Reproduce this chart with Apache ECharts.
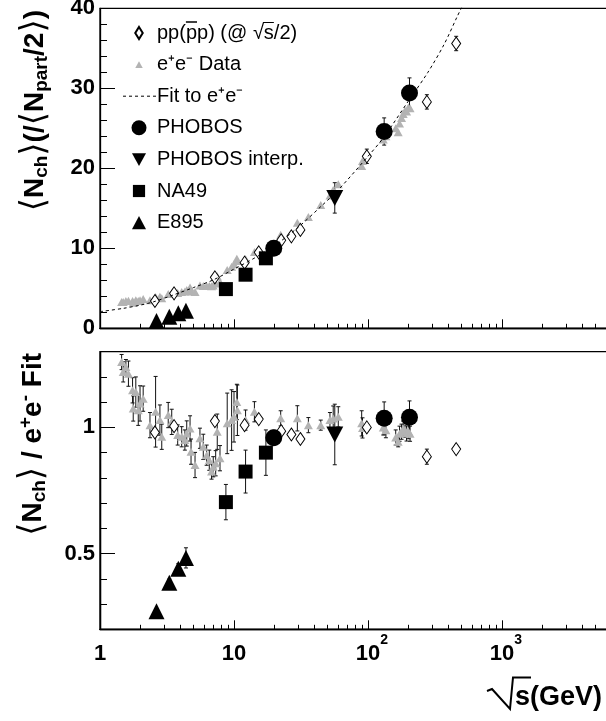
<!DOCTYPE html>
<html><head><meta charset="utf-8">
<script src="https://cdn.jsdelivr.net/npm/echarts@6/dist/echarts.min.js"></script>
<style>html,body{margin:0;padding:0;background:#fff}#c{width:606px;height:721px}</style>
</head><body><div id="c"></div>
<script>
// ---------------- data ----------------
const fitX = [1, 1.5, 2, 2.5, 3.5, 5, 7, 10, 15, 20, 30, 45, 60, 100, 130, 200, 280, 370, 464, 510];
const fitY = [2.08, 2.5, 2.9, 3.3, 4.15, 5.1, 6.05, 7.4, 9.0, 10.3, 12.6, 15.3, 17.3, 21.5, 23.8, 28.4, 32.0, 35.5, 39.0, 40.4];

const ppX = [2.57, 3.57, 7.2, 12.0, 15.3, 22.5, 26.8, 31.3, 98, 275, 455];
const ppY = [3.41, 4.37, 6.37, 8.2, 9.5, 11.0, 11.5, 12.3, 21.5, 28.3, 35.6];
const ppYErr = [0.3, 0.3, 0.4, 0.4, 0.4, 0.4, 0.4, 0.4, 0.9, 0.9, 0.9];
const ppRatio = [0.98, 1.005, 1.025, 1.009, 1.033, 0.985, 0.972, 0.954, 1.0, 0.884, 0.914];
const ppRatioErr = [0.01, 0.01, 0.01, 0.01, 0.01, 0.01, 0.01, 0.01, 0.01, 0.03, 0.015];

const eeX = [1.45,1.49,1.56,1.63,1.75,1.77,1.85,1.93,1.99,2.1,2.36,2.6,2.8,2.89,3.23,3.43,3.8,4.07,4.3,4.44,4.7,4.78,5.12,5.57,5.9,6.25,6.54,6.8,7.0,7.3,7.5,7.86,8.9,9.6,10.0,10.5,10.6,12.2,14.2,22.3,29.7,35.9,44.4,52,55,60,89.7,91,130,136,161,168,172,178,183,189,194,200,206];
const eeY = [3.3,3.3,3.4,3.45,3.4,3.2,3.5,3.4,3.5,3.65,3.5,3.9,3.95,3.75,4.3,4.35,4.4,4.55,4.6,4.8,5.1,4.6,4.55,5.35,5.3,5.3,5.3,5.25,5.35,5.6,6.5,5.8,7.3,7.7,8.0,8.7,8.4,8.65,9.55,11.7,13.2,13.9,15.4,16.6,17.3,18.0,20.3,20.9,23.6,24.0,25.0,24.5,25.6,26.3,26.8,27.2,27.1,27.6,27.5];
const eeRatio = [1.259,1.22,1.239,1.213,1.147,1.075,1.14,1.068,1.095,1.114,1.009,1.062,1.029,0.963,1.049,1.022,0.97,0.963,0.95,0.976,0.996,0.904,0.851,0.957,0.923,0.89,0.87,0.825,0.844,0.858,0.983,0.878,1.016,1.029,1.042,1.101,1.068,1.029,1.062,1.036,1.036,1.009,1.009,1.029,1.035,1.042,1.016,0.998,1.0,0.989,0.96,0.943,0.975,0.983,0.995,0.99,0.976,0.985,0.975];
const eeRatioErr = [0.03,0.04,0.03,0.05,0.05,0.05,0.06,0.06,0.07,0.05,0.05,0.14,0.06,0.05,0.05,0.05,0.04,0.04,0.04,0.05,0.05,0.05,0.05,0.04,0.05,0.04,0.04,0.03,0.04,0.05,0.07,0.05,0.12,0.12,0.1,0.07,0.1,0.04,0.04,0.03,0.05,0.03,0.02,0.03,0.05,0.04,0.05,0.04,0.03,0.03,0.03,0.02,0.03,0.03,0.03,0.03,0.03,0.03,0.03];

const phobosX = [19.8, 132, 204];
const phobosY = [10.0, 24.6, 29.4];
const phobosYErr = [0.5, 1.7, 1.9];
const phobosRatio = [0.959, 1.036, 1.04];
const phobosRatioErr = [0.03, 0.065, 0.065];

const interpX = [56.5];
const interpY = [16.3];
const interpYErr = [1.9];
const interpRatio = [0.972];
const interpRatioErr = [0.12];

const na49X = [8.7, 12.2, 17.3];
const na49Y = [4.9, 6.7, 8.75];
const na49YErr = [0.3, 0.4, 0.5];
const na49Ratio = [0.704, 0.825, 0.9];
const na49RatioErr = [0.07, 0.085, 0.09];

const e895X = [2.64, 3.29, 3.84, 4.38];
const e895Y = [0.9, 1.45, 1.87, 2.2];
const e895YErr = [0.1, 0.1, 0.1, 0.1];
const e895Ratio = [0.272, 0.384, 0.44, 0.483];
const e895RatioErr = [0.01, 0.015, 0.02, 0.04];

const xMajorTicks = [1, 10, 100, 1000];
const xMinorTicks = [2,3,4,5,6,7,8,9,20,30,40,50,60,70,80,90,200,300,400,500,600,700,800,900,2000,3000,4000,5000,6000,7000,8000,9000];
const ratioLabelTicks = [0.5, 1];

// ---------------- chart ----------------
const FONT = 'Liberation Sans';
const chart = echarts.init(document.getElementById('c'));
const zip2 = (a, b) => a.map((v, i) => [v, b[i]]);
const zip3 = (a, b, c) => a.map((v, i) => [v, b[i], c[i]]);

function errRender(params, api) {
  const x = api.value(0), y = api.value(1), e = api.value(2);
  const t = api.coord([x, y + e]), b = api.coord([x, y - e]);
  const hw = 2, st = {stroke: '#111', lineWidth: 1};
  return {type: 'group', children: [
    {type: 'line', shape: {x1: t[0], y1: t[1], x2: b[0], y2: b[1]}, style: st},
    {type: 'line', shape: {x1: t[0]-hw, y1: t[1], x2: t[0]+hw, y2: t[1]}, style: st},
    {type: 'line', shape: {x1: b[0]-hw, y1: b[1], x2: b[0]+hw, y2: b[1]}, style: st}
  ]};
}
function errSeries(name, xi, yi, data) {
  return {name: name, type: 'custom', xAxisIndex: xi, yAxisIndex: yi, renderItem: errRender,
    data: data, encode: {x: 0, y: 1}, z: 2, clip: true, silent: true};
}
function sc(name, xi, yi, data, symbol, size, color, z, extra) {
  return Object.assign({name: name, type: 'scatter', xAxisIndex: xi, yAxisIndex: yi, data: data,
    symbol: symbol, symbolSize: size, itemStyle: {color: color, opacity: 1}, z: z, silent: true}, extra || {});
}

const gray = '#b3b3b3';
const ppStyle = {itemStyle: {color: '#fff', borderColor: '#000', borderWidth: 1, opacity: 1}};
const invStyle = {symbolRotate: 180};

const xCommon = {type: 'log', logBase: 10, min: 1, max: 10000, position: 'bottom',
  axisLine: {show: true, lineStyle: {color: '#000', width: 1.3}},
  splitLine: {show: false}, minorTick: {show: false}, minorSplitLine: {show: false}};
const minorTick = {show: true, inside: true, length: 4.5, customValues: xMinorTicks, lineStyle: {color: '#000', width: 1}};
const majorTick = {show: true, inside: true, length: 9, customValues: xMajorTicks, lineStyle: {color: '#000', width: 1}};

const xLabel = {
  show: true, customValues: xMajorTicks, margin: 4,
  formatter: function (v) {
    const p = Math.round(Math.log10(v));
    if (p === 0) return '{b|1}';
    if (p === 1) return '{b|10}';
    return '{sp| }{b|10}{s|' + p + '}';
  },
  rich: {
    b: {fontSize: 22, fontWeight: 'bold', fontFamily: FONT, color: '#000', padding: [10, 0, 0, 0]},
    s: {fontSize: 14, fontWeight: 'bold', fontFamily: FONT, color: '#000', padding: [0, 0, 18, 0]},
    sp: {fontSize: 14, width: 8}
  }
};

const gridBase = {left: 100, width: 536, show: true, borderColor: '#000', borderWidth: 1.3,
  backgroundColor: 'transparent', containLabel: false, outerBoundsMode: 'none'};

const LEG_LEFT = 126, LEG_TOP = 23, LEG_W = 26, LEG_GAP = 11.6;

const option = {
  backgroundColor: '#fff',
  animation: false,
  grid: [
    Object.assign({}, gridBase, {top: 8.3, height: 320}),
    Object.assign({}, gridBase, {top: 351.7, height: 277.6})
  ],
  xAxis: [
    Object.assign({}, xCommon, {gridIndex: 0, axisTick: minorTick, axisLabel: {show: false}}),
    Object.assign({}, xCommon, {gridIndex: 0, axisTick: majorTick, axisLabel: {show: false}}),
    Object.assign({}, xCommon, {gridIndex: 1, axisTick: minorTick, axisLabel: {show: false}}),
    Object.assign({}, xCommon, {gridIndex: 1, axisTick: majorTick, axisLabel: xLabel})
  ],
  yAxis: [
    {gridIndex: 0, type: 'value', position: 'left', min: 0, max: 40, interval: 10,
      axisLine: {show: true, lineStyle: {color: '#000', width: 1.3}},
      axisTick: {show: true, inside: true, length: 15, lineStyle: {color: '#000'}},
      minorTick: {show: true, splitNumber: 5, length: 7, lineStyle: {color: '#000'}},
      splitLine: {show: false},
      axisLabel: {fontSize: 22, fontWeight: 'bold', fontFamily: FONT, color: '#000', margin: 5}},
    {gridIndex: 1, type: 'value', position: 'left', min: 0.2, max: 1.3, interval: 0.1,
      axisLine: {show: true, lineStyle: {color: '#000', width: 1.3}},
      axisTick: {show: true, inside: true, length: 7, lineStyle: {color: '#000'}},
      splitLine: {show: false}, axisLabel: {show: false}},
    {gridIndex: 1, type: 'value', position: 'left', offset: 0, min: 0.2, max: 1.3, interval: 0.1,
      axisLine: {show: true, lineStyle: {color: '#000', width: 1.3}},
      axisTick: {show: true, inside: true, length: 15, customValues: ratioLabelTicks, lineStyle: {color: '#000'}},
      splitLine: {show: false},
      axisLabel: {show: true, customValues: ratioLabelTicks, fontSize: 22, fontWeight: 'bold', fontFamily: FONT, color: '#000', margin: 5,
        formatter: v => (Math.abs(v - 1) < 1e-9 ? '1' : '0.5')}}
  ],
  legend: {
    left: LEG_LEFT, top: LEG_TOP, orient: 'vertical', itemWidth: LEG_W, itemHeight: 15, itemGap: LEG_GAP, padding: 0,
    selectedMode: false,
    textStyle: {fontSize: 20, fontFamily: FONT, color: '#000', lineHeight: 20},
    formatter: function (n) {
      return {pp: 'pp(pp) (@ \u221As/2)', ee: 'e\u207Ae\u207B Data', fit: 'Fit to e\u207Ae\u207B'}[n] || n;
    },
    data: [
      {name: 'pp', icon: 'path://M0,0M16,16M8,1.5L12,8L8,14.5L4,8Z'},
      {name: 'ee', icon: 'path://M0,0M16,16M8,4.5L12,11.5L4,11.5Z'},
      {name: 'fit', icon: 'none'},
      {name: 'PHOBOS', icon: 'circle'},
      {name: 'PHOBOS interp.', icon: 'path://M0,0M16,16M0.5,1.5L15.5,1.5L8,15Z'},
      {name: 'NA49', icon: 'path://M0,0M16,16M1.5,1.5L14.5,1.5L14.5,14.5L1.5,14.5Z'},
      {name: 'E895', icon: 'path://M0,0M16,16M8,1L15.5,15L0.5,15Z'}
    ]
  },
  series: [
    // top panel
    sc('pp', 0, 0, zip2(ppX, ppY), 'diamond', [9, 13], '#fff', 4, ppStyle),
    sc('ee', 0, 0, zip2(eeX, eeY), 'triangle', [9, 8], gray, 3),
    {name: 'fit', type: 'line', xAxisIndex: 0, yAxisIndex: 0, data: zip2(fitX, fitY), symbol: 'none',
      smooth: 0.3, itemStyle: {color: '#000'}, lineStyle: {color: '#000', width: 1, type: [3, 3]}, z: 6, silent: true},
    sc('PHOBOS', 0, 0, zip2(phobosX, phobosY), 'circle', 17, '#000', 5),
    sc('PHOBOS interp.', 0, 0, zip2(interpX, interpY), 'triangle', [17, 16], '#000', 5, invStyle),
    sc('NA49', 0, 0, zip2(na49X, na49Y), 'rect', 14, '#000', 5),
    sc('E895', 0, 0, zip2(e895X, e895Y), 'triangle', [16, 16], '#000', 5),
    errSeries('e_pp0', 0, 0, zip3(ppX, ppY, ppYErr)),
    errSeries('e_ph0', 0, 0, zip3(phobosX, phobosY, phobosYErr)),
    errSeries('e_in0', 0, 0, zip3(interpX, interpY, interpYErr)),
    errSeries('e_na0', 0, 0, zip3(na49X, na49Y, na49YErr)),
    errSeries('e_e80', 0, 0, zip3(e895X, e895Y, e895YErr)),
    // bottom panel
    sc('ee', 2, 1, zip2(eeX, eeRatio), 'triangle', [9, 8], gray, 3),
    sc('pp', 2, 1, zip2(ppX, ppRatio), 'diamond', [9, 13], '#fff', 4, ppStyle),
    sc('PHOBOS', 2, 1, zip2(phobosX, phobosRatio), 'circle', 17, '#000', 5),
    sc('PHOBOS interp.', 2, 1, zip2(interpX, interpRatio), 'triangle', [17, 16], '#000', 5, invStyle),
    sc('NA49', 2, 1, zip2(na49X, na49Ratio), 'rect', 14, '#000', 5),
    sc('E895', 2, 1, zip2(e895X, e895Ratio), 'triangle', [16, 16], '#000', 5),
    errSeries('e_ee1', 2, 1, zip3(eeX, eeRatio, eeRatioErr)),
    errSeries('e_pp1', 2, 1, zip3(ppX, ppRatio, ppRatioErr)),
    errSeries('e_ph1', 2, 1, zip3(phobosX, phobosRatio, phobosRatioErr)),
    errSeries('e_in1', 2, 1, zip3(interpX, interpRatio, interpRatioErr)),
    errSeries('e_na1', 2, 1, zip3(na49X, na49Ratio, na49RatioErr)),
    errSeries('e_e81', 2, 1, zip3(e895X, e895Ratio, e895RatioErr))
  ]
};

// text decorations (titles, overlines, legend fit line)
const mctx = document.createElement('canvas').getContext('2d');
mctx.font = '20px "Liberation Sans"';
const w = s => mctx.measureText(s).width;
const lx = LEG_LEFT + LEG_W + 5;
const rowC = i => LEG_TOP + 9 + i * (20 + LEG_GAP);
const titleRich = {
  a: {fontSize: 34, fontFamily: 'DejaVu Sans', fontWeight: 'normal', color: '#000'},
  t: {fontSize: 28, fontFamily: FONT, fontWeight: 'bold', color: '#000'},
  s: {fontSize: 19, fontFamily: FONT, fontWeight: 'bold', color: '#000', padding: [14, 0, 0, 0]},
  p: {fontSize: 19, fontFamily: FONT, fontWeight: 'bold', color: '#000', padding: [0, 0, 14, 0]}
};
option.graphic = [
  {type: 'text', x: 35, y: 10, rotation: Math.PI / 2, style: {
    text: '{a|\u27E8}{t|N}{s|ch}{a|\u27E9}{t|(/}{a|\u27E8}{t|N}{s|part}{t|/2}{a|\u27E9}{t|)}',
    rich: titleRich, align: 'right', verticalAlign: 'middle'}},
  {type: 'text', x: 33, y: 353, rotation: Math.PI / 2, style: {
    text: '{a|\u27E8}{t|N}{s|ch}{a|\u27E9}{t| / e}{p|+}{t|e}{p|-}{t| Fit}',
    rich: titleRich, align: 'right', verticalAlign: 'middle'}},
  {type: 'polyline', shape: {points: [[487, 691], [492, 689], [510, 709], [513, 677.5], [531, 677.5]]},
    style: {stroke: '#000', lineWidth: 2, fill: null}},
  {type: 'text', x: 515, y: 698, style: {text: 's(GeV)', font: 'bold 27px "Liberation Sans"', fill: '#000', align: 'left', verticalAlign: 'middle'}},
  {type: 'line', shape: {x1: lx + w('pp('), y1: rowC(0) - 10, x2: lx + w('pp(p'), y2: rowC(0) - 10}, style: {stroke: '#000', lineWidth: 1.5}},
  {type: 'line', shape: {x1: lx + w('pp(pp) (@ \u221A') - 1, y1: rowC(0) - 9.5, x2: lx + w('pp(pp) (@ \u221As'), y2: rowC(0) - 9.5}, style: {stroke: '#000', lineWidth: 1}},
  {type: 'line', shape: {x1: 123, y1: rowC(2) + 1, x2: lx, y2: rowC(2) + 1}, style: {stroke: '#000', lineWidth: 1, lineDash: [3, 3]}}
];

chart.setOption(option);
</script></body></html>
